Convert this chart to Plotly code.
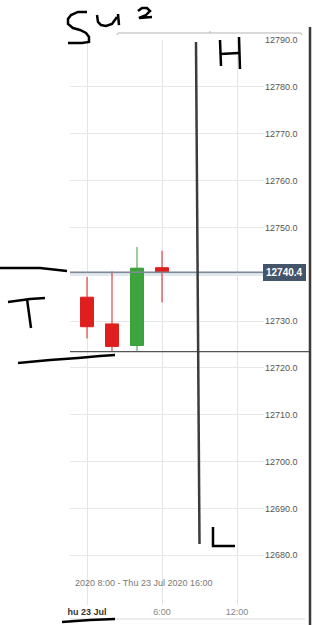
import plotly.graph_objects as go

# ---- data ----
times = ["2020-07-23 00:00", "2020-07-23 02:00", "2020-07-23 04:00", "2020-07-23 06:00"]
opens = [12735.1, 12729.4, 12724.8, 12741.4]
highs = [12739.4, 12740.6, 12745.8, 12745.0]
lows = [12726.3, 12723.5, 12723.5, 12734.0]
closes = [12728.8, 12724.6, 12741.3, 12740.4]

y_ticks = [12680, 12690, 12700, 12710, 12720, 12730, 12740, 12750, 12760, 12770, 12780, 12790]
x_tick_vals = ["2020-07-23 00:00", "2020-07-23 06:00", "2020-07-23 12:00"]
x_tick_text = ["<b><span style='color:#333333'>hu 23 Jul</span></b>", "6:00", "12:00"]
range_text = "2020 8:00 - Thu 23 Jul 2020 16:00"

last_price = closes[-1]
support_level = min(lows)

# ---- layout geometry (pixels) ----
W, H = 312, 625
ML, MR, MT, MB = 70, 48, 40, 20
PW = W - ML - MR
PH = H - MT - MB


def px(x):
    return (x - ML) / PW


def py(y):
    return (H - MB - y) / PH


def path(points):
    s = "M{:.4f},{:.4f}".format(px(points[0][0]), py(points[0][1]))
    for x, y in points[1:]:
        s += " L{:.4f},{:.4f}".format(px(x), py(y))
    return s


# the 12740.0 label is hidden behind the last-price tag in the reference
y_tick_text = ["" if abs(v - last_price) < 3 else f"{v:.1f}" for v in y_ticks]

fig = go.Figure()
fig.add_trace(go.Candlestick(
    x=times, open=opens, high=highs, low=lows, close=closes,
    increasing=dict(line=dict(color="#3a9e3a", width=1), fillcolor="#3ea43e"),
    decreasing=dict(line=dict(color="#e01e1e", width=1), fillcolor="#e01e1e"),
    whiskerwidth=0, hoverinfo="skip", showlegend=False,
))

shapes = []
# price level lines
shapes.append(dict(type="line", xref="paper", yref="y", x0=0, x1=1, y0=last_price - 0.3, y1=last_price - 0.3,
                   line=dict(color="#d3deea", width=4), layer="below"))
shapes.append(dict(type="line", xref="paper", yref="y", x0=0, x1=1, y0=last_price, y1=last_price,
                   line=dict(color="#7f8a96", width=1.5)))
shapes.append(dict(type="line", xref="paper", yref="y", x0=0, x1=px(310), y0=support_level, y1=support_level,
                   line=dict(color="#555555", width=1.2)))
# right dark border
shapes.append(dict(type="line", xref="paper", yref="paper", x0=px(310), x1=px(310), y0=py(27), y1=py(626),
                   line=dict(color="#3a3a3a", width=2.5)))
# top navigator line
shapes.append(dict(type="path", xref="paper", yref="paper",
                   path=path([(117, 35), (118, 33), (301, 33), (302, 35)]),
                   line=dict(color="#b5b5b5", width=1)))
shapes.append(dict(type="line", xref="paper", yref="paper", x0=px(210), x1=px(210), y0=py(31), y1=py(33),
                   line=dict(color="#b5b5b5", width=1)))
# bottom axis line
shapes.append(dict(type="line", xref="paper", yref="paper", x0=px(70), x1=px(305), y0=py(619), y1=py(619),
                   line=dict(color="#d8d8d8", width=1)))
# H-L vertical line
shapes.append(dict(type="line", xref="paper", yref="paper", x0=px(196), x1=px(199.5), y0=py(42), y1=py(544),
                   line=dict(color="#3c3c3c", width=2.5)))

# hand-drawn strokes
strokes = [
    [(87, 12), (78, 12), (71, 15), (68, 19), (68, 24), (73, 28), (80, 30), (86, 33), (89, 37), (89, 42), (82, 43), (68, 43)],
    [(97, 15), (98, 22), (101, 25), (106, 26), (112, 24), (117, 17)],
    [(118, 14), (119, 25)],
    [(138, 11), (142, 8), (147, 8), (150, 11), (146, 15), (139, 18), (152, 17)],
    [(220, 40), (221, 66)],
    [(239, 37), (240, 69)],
    [(220, 54), (239, 53)],
    [(213, 527), (213, 546), (235, 546)],
    [(8, 302), (30, 299), (45, 298)],
    [(27, 299), (31, 328)],
    [(0, 268), (40, 268), (67, 271)],
    [(18, 363), (50, 360), (78, 358), (100, 356), (115, 355)],
    [(62, 622), (90, 620), (115, 619)],
]
for s in strokes:
    shapes.append(dict(type="path", xref="paper", yref="paper", path=path(s),
                       line=dict(color="#000000", width=2.5)))

annotations = [
    dict(xref="paper", yref="y", x=1, y=last_price, xanchor="left", yanchor="middle", xshift=-1,
         text="<b>" + f"{last_price:.1f}" + "</b>", showarrow=False,
         font=dict(family="Arial", size=10, color="#ffffff"),
         bgcolor="#44546b", bordercolor="#44546b", borderpad=2),
    dict(xref="paper", yref="paper", x=px(73), y=py(583), xanchor="left", yanchor="middle",
         text=range_text, showarrow=False, font=dict(family="Arial", size=9, color="#777777")),
]

fig.update_layout(
    width=W, height=H,
    margin=dict(l=ML, r=MR, t=MT, b=MB, autoexpand=False),
    paper_bgcolor="#ffffff", plot_bgcolor="#ffffff",
    shapes=shapes, annotations=annotations,
    boxgap=0.26,
    showlegend=False,
    font=dict(family="Arial", size=9, color="#666666"),
    xaxis=dict(
        type="date", range=["2020-07-22 22:38:24", "2020-07-23 14:09:36"],
        rangeslider=dict(visible=False),
        tickvals=x_tick_vals, ticktext=x_tick_text,
        showgrid=True, gridcolor="#e4e4e4", gridwidth=1,
        zeroline=False, showline=False, ticks="",
        automargin=False,
        tickfont=dict(family="Arial", size=9, color="#888888"),
    ),
    yaxis=dict(
        side="right", range=[12669.4, 12790],
        tickvals=y_ticks, ticktext=y_tick_text,
        showgrid=True, gridcolor="#e8e8e8", gridwidth=1,
        zeroline=False, showline=False, ticks="",
        automargin=False,
        tickfont=dict(family="Arial", size=9, color="#555555"),
    ),
)

fig.write_html("out.html")
